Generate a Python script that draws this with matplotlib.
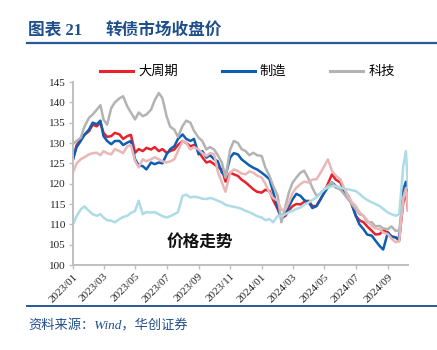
import matplotlib
matplotlib.use("Agg")
import matplotlib.pyplot as plt
import matplotlib.dates as mdates
from matplotlib.lines import Line2D
import pandas as pd

# -----------------------
# Data (1st/8th/16th/23rd of each month,
# then the early-October rally)
# -----------------------
months = pd.date_range("2023-01-01", "2024-09-01", freq="MS")
dates = [pd.Timestamp(m.year, m.month, d) for m in months for d in (1, 8, 16, 23)] + \
    [pd.Timestamp(d) for d in ["2024-10-01", "2024-10-06", "2024-10-10"]]

cyclical = [
    126.0, 129.5, 130.9, 132.0,  132.9, 134.5, 134.1, 135.0,  132.5, 131.5, 131.7, 132.5,
    132.1, 131.0, 131.7, 132.0,  127.6, 128.5, 128.0, 128.8,  128.4, 129.0, 128.0, 128.5,
    127.6, 128.0, 128.4, 129.5,  130.5, 130.0, 129.2, 129.5,  128.0, 126.5, 125.2, 125.5,
    124.8, 124.0, 123.5, 120.5,  122.7, 122.3, 121.9, 121.0,  120.3, 119.5, 118.6, 118.0,
    117.8, 118.5, 118.2, 116.0,  113.7, 111.5, 112.1, 113.5,  114.5, 115.0, 114.9, 115.5,
    115.8, 114.5, 114.5, 116.0,  117.8, 120.0, 122.3, 121.0,  120.3, 118.5, 117.0, 115.0,
    112.1, 111.0, 110.5, 109.5,  108.4, 107.5, 107.6, 108.5,  108.0, 107.0, 106.8, 106.5,
    115.5, 118.0, 113.5]
manufacturing = [
    126.0, 129.0, 130.5, 132.0,  133.3, 135.0, 134.6, 135.5,  131.7, 130.5, 129.7, 130.5,
    130.5, 129.5, 130.1, 130.5,  126.0, 124.5, 124.3, 123.5,  125.2, 124.8, 125.2, 125.0,
    127.2, 128.5, 129.2, 131.0,  132.1, 131.0, 130.5, 131.0,  127.2, 128.0, 126.4, 127.0,
    126.0, 125.5, 122.7, 122.0,  126.4, 127.5, 127.2, 126.0,  125.2, 124.5, 123.9, 123.5,
    122.7, 122.0, 121.1, 118.0,  114.1, 111.5, 112.5, 114.5,  116.2, 117.5, 117.0, 116.0,
    115.4, 114.0, 114.5, 116.0,  117.8, 119.0, 120.3, 119.5,  118.6, 118.0, 117.0, 115.0,
    112.1, 110.0, 108.8, 107.5,  107.2, 106.0, 104.7, 103.8,  108.0, 107.0, 106.8, 106.0,
    118.5, 120.5, 115.5]
tech = [
    129.8, 130.5, 131.3, 134.0,  136.2, 137.0, 138.2, 139.3,  135.8, 134.5, 138.6, 140.0,
    141.0, 141.5, 139.0, 137.5,  135.8, 137.5, 136.6, 137.0,  138.2, 140.5, 142.3, 141.0,
    136.6, 134.0, 133.3, 131.5,  134.2, 135.5, 135.0, 133.0,  131.3, 130.5, 128.4, 129.0,
    128.4, 127.0, 125.2, 121.5,  128.4, 130.5, 130.0, 128.5,  128.0, 127.0, 127.6, 127.0,
    126.8, 124.0, 121.9, 119.5,  117.0, 110.5, 114.5, 118.0,  120.3, 121.5, 122.7, 123.2,
    121.1, 119.0, 117.0, 117.5,  118.6, 119.5, 120.3, 119.0,  118.6, 117.5, 116.2, 115.0,
    113.7, 112.5, 112.1, 110.5,  110.5, 109.5, 109.6, 109.0,  108.8, 109.5, 108.4, 108.5,
    116.5, 119.0, 116.0]
consumer = [
    122.8, 125.0, 126.0, 126.5,  127.2, 127.5, 127.6, 127.0,  128.0, 127.5, 127.2, 128.5,
    128.0, 127.5, 129.2, 129.5,  125.6, 124.0, 126.0, 125.5,  126.0, 126.5, 126.0, 125.5,
    125.2, 125.5, 126.0, 128.0,  130.5, 130.0, 128.4, 129.0,  128.4, 127.5, 126.8, 127.5,
    127.2, 123.0, 120.3, 118.0,  122.7, 123.5, 123.1, 122.5,  122.3, 123.0, 122.7, 122.0,
    121.5, 120.0, 117.8, 116.5,  115.8, 113.5, 113.7, 115.5,  117.8, 119.0, 119.9, 120.5,
    120.3, 121.0, 121.1, 122.5,  124.3, 126.0, 123.1, 122.0,  121.1, 119.0, 117.0, 115.5,
    114.5, 113.0, 112.1, 111.0,  109.6, 109.0, 108.8, 108.0,  107.6, 106.5, 105.6, 105.8,
    116.5, 118.5, 113.5]
finance = [
    110.0, 112.0, 113.7, 114.4,  113.3, 112.5, 112.1, 112.5,  111.7, 111.0, 110.9, 110.5,
    111.3, 111.8, 112.1, 112.8,  113.3, 115.8, 112.5, 113.0,  112.9, 113.0, 112.5, 112.0,
    111.7, 112.0, 112.5, 113.0,  117.0, 117.3, 116.6, 116.8,  116.6, 116.3, 116.2, 116.5,
    116.2, 115.8, 115.4, 114.8,  114.5, 114.3, 114.1, 113.8,  113.3, 113.0, 112.5, 112.0,
    111.7, 111.0, 111.3, 110.5,  112.1, 112.0, 112.5, 113.0,  113.3, 113.8, 114.1, 114.8,
    115.4, 116.0, 116.6, 117.5,  118.6, 119.0, 119.4, 119.5,  119.0, 118.8, 118.6, 118.4,
    118.2, 117.5, 116.6, 116.0,  115.4, 115.0, 114.5, 113.8,  112.9, 112.5, 112.1, 112.5,
    124.5, 128.0, 119.0]

legend_labels = ["大周期", "制造", "科技"]
tick_dates = pd.date_range("2023-01-01", "2024-09-01", freq="2MS")

# -----------------------
# Figure
# -----------------------
CJK = ["Liberation Serif", "Noto Sans CJK SC"]
BLUE_DARK = "#1F4E8C"

fig = plt.figure(figsize=(4.37, 3.5), dpi=100)
ax = fig.add_axes([73 / 437, 1 - 265 / 350, (408 - 73) / 437, (265 - 82) / 350])

series = [
    (cyclical, "#E8212B"),
    (manufacturing, "#0E5DB3"),
    (tech, "#B3B3B3"),
    (consumer, "#E9B7B7"),
    (finance, "#ADDBE6"),
]
for vals, col in series:
    ax.plot(dates, vals, color=col, lw=1.8, solid_joinstyle="round")

ax.set_ylim(100, 145)
ax.set_yticks(range(100, 146, 5))
ax.set_xlim(pd.Timestamp("2023-01-01"), pd.Timestamp("2024-10-10"))
ax.set_xticks(tick_dates)
ax.xaxis.set_major_formatter(mdates.DateFormatter("%Y/%m"))

for lab in ax.get_xticklabels():
    lab.set_rotation(45)
    lab.set_ha("right")
    lab.set_rotation_mode("anchor")

ax.tick_params(axis="both", labelsize=8, colors="#BFBFBF", length=3, width=1, pad=2)
for lab in ax.get_xticklabels() + ax.get_yticklabels():
    lab.set_fontfamily("Liberation Serif")
    lab.set_color("#222222")

for s in ["top", "right"]:
    ax.spines[s].set_visible(False)
for s in ["left", "bottom"]:
    ax.spines[s].set_color("#BFBFBF")
    ax.spines[s].set_linewidth(1.4)

ax.text(0.38, 0.12, "价格走势", transform=ax.transAxes, ha="center", va="center",
        fontsize=12, fontweight="bold", family=CJK, color="#111111")

# legend
handles = [Line2D([], [], color=c, lw=2.2) for _, c in series[:3]]
fig.legend(handles, legend_labels, loc="center", bbox_to_anchor=(0.566, 1 - 72 / 350),
           ncol=3, frameon=False, handlelength=2.5, handletextpad=0.4,
           columnspacing=3.3, prop={"family": CJK, "size": 9.5})

# title + rules
fig.text(28 / 437, 1 - 31 / 350, "图表 21", fontsize=12, fontweight="bold",
         family=CJK, color=BLUE_DARK, va="center")
fig.text(105 / 437, 1 - 31 / 350, "转债市场收盘价", fontsize=12, fontweight="bold",
         family=CJK, color=BLUE_DARK, va="center")
fig.add_artist(Line2D([27 / 437, 1], [1 - 43 / 350] * 2, color="#2B5797", lw=1.6))
fig.add_artist(Line2D([27 / 437, 1], [1 - 306 / 350] * 2, color="#2B5797", lw=1.4))
fig.text(28 / 437, 1 - 326 / 350, "资料来源：Wind，华创证券", fontsize=9.5, style="italic",
         family=CJK, color=BLUE_DARK, va="center")

fig.savefig("out.png", dpi=100)
